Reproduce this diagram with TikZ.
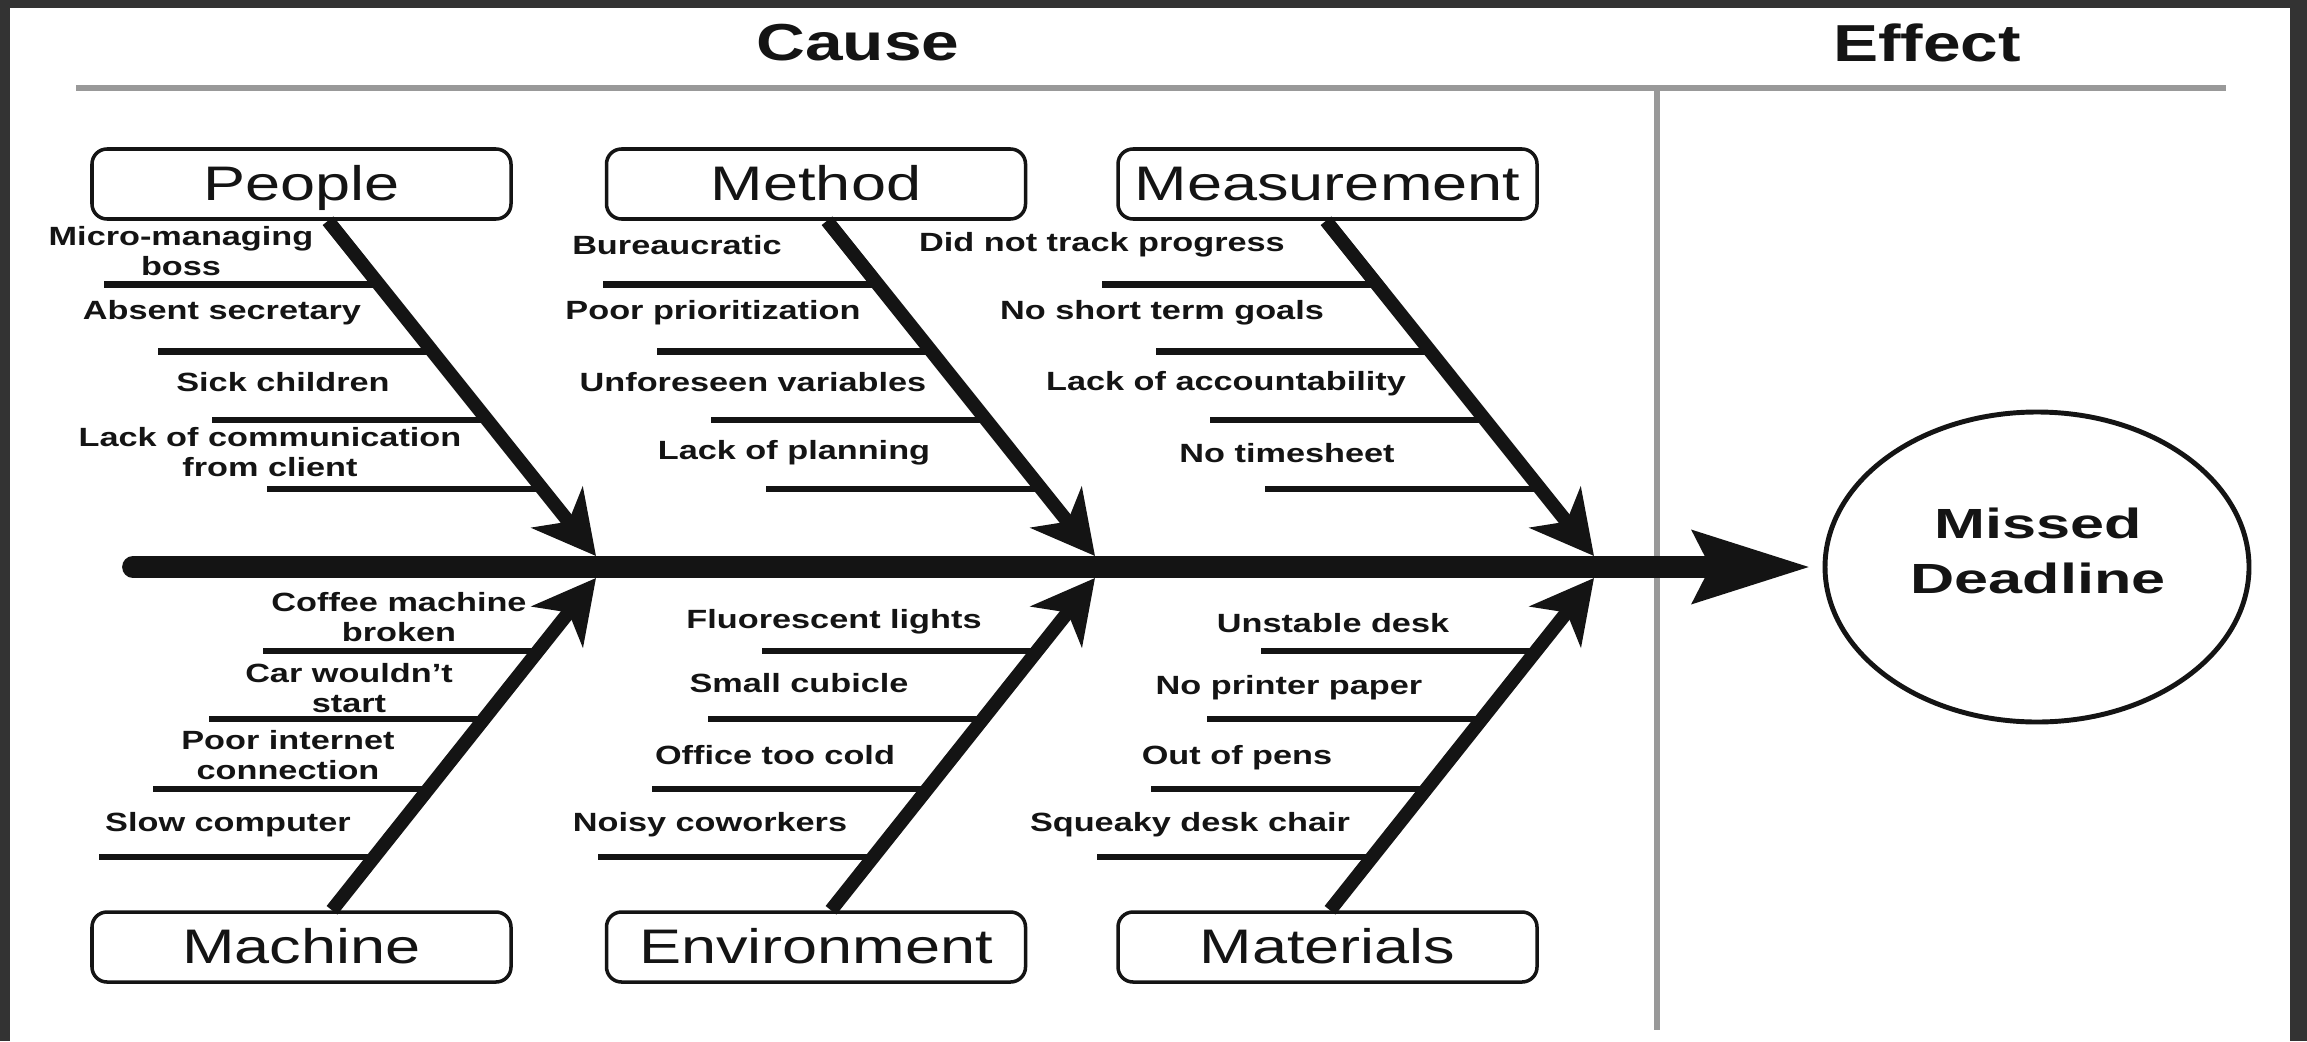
\documentclass[tikz,border=0pt]{standalone}
\usepackage{fontspec}
\setmainfont{Liberation Sans}[FakeStretch=1.3]
\newfontfamily\effectfont{Liberation Sans}[FakeStretch=1.45]
\usepackage{tikz}
\usetikzlibrary{arrows.meta, calc, shapes.geometric}
\definecolor{inkBlack}{gray}{0.08}
\definecolor{ruleGray}{gray}{0.6}
\definecolor{frameGray}{gray}{0.2}

\begin{document}
\begin{tikzpicture}[
    category/.style={draw=inkBlack, line width=1pt, rounded corners=1.5mm, minimum width=4.19cm, minimum height=0.7cm, inner sep=0pt, text height=9.6pt, text depth=0pt, text=inkBlack, font=\fontsize{13.8}{16}\selectfont},
    cause/.style={align=center, inner sep=0pt, text=inkBlack, font=\fontsize{7.5}{8.3}\selectfont\bfseries},
    heading/.style={text=inkBlack, font=\fontsize{14.8}{17}\selectfont\bfseries},
    bone/.style={line width=3.9pt, inkBlack, -{Stealth[length=6.2mm, width=6.5mm, inset=1.8mm]}},
    twig/.style={line width=1.8pt, inkBlack},
    rule/.style={line width=1.5pt, ruleGray}
]
    \useasboundingbox (0,0) rectangle (23.07,10.41);
    \fill[frameGray] (0,0) rectangle (23.07,10.41);
    \fill[white] (0.10,0) rectangle (22.90,10.33);

    % Headings and dividers
    \node[heading] (cause) at (8.58,9.98) {Cause};
    \node[heading] (effecthead) at (19.27,9.98) {Effect};
    \draw[rule] (0.76,9.53) -- (22.26,9.53);
    \draw[rule] (16.57,9.53) -- (16.57,0.11);

    % Categories
    \node[category] (people) at (3.015,8.57) {People};
    \node[category] (method) at (8.16,8.57) {Method};
    \node[category] (measure) at (13.275,8.57) {Measurement};
    \node[category] (machine) at (3.015,0.94) {Machine};
    \node[category] (environ) at (8.16,0.94) {Environment};
    \node[category] (material) at (13.275,0.94) {Materials};

    % Head and spine
    \node[draw=inkBlack, ellipse, line width=1.4pt, minimum width=4.24cm, minimum height=3.1cm, inner sep=0pt] (effect) at (20.37,4.74) {};
    \node[align=center, text=inkBlack, font=\effectfont\fontsize{12}{15.5}\selectfont\bfseries] (deadline) at (20.38,4.90) {Missed\\Deadline};
    \coordinate (tail) at (1.33,4.74);
    \draw[line width=6.2pt, line cap=round, inkBlack, -{Stealth[length=11.6mm, width=7mm, inset=1.6mm]}, shorten >=1.2mm] (tail) -- (effect);

    % Bones
    \coordinate (p-base) at ([xshift=2.65mm]people.south);
    \coordinate (m-base) at ([xshift=1.1mm]method.south);
    \coordinate (r-base) at ([xshift=-0.15mm]measure.south);
    \coordinate (c-base) at ([xshift=3.05mm]machine.north);
    \coordinate (e-base) at ([xshift=1.5mm]environ.north);
    \coordinate (t-base) at ([xshift=0.25mm]material.north);
    \coordinate (p-tip) at (5.96,4.85);
    \coordinate (m-tip) at (10.95,4.85);
    \coordinate (r-tip) at (15.94,4.85);
    \coordinate (c-tip) at (5.96,4.63);
    \coordinate (e-tip) at (10.95,4.63);
    \coordinate (t-tip) at (15.94,4.63);

    \foreach \bn in {p,m,r} {
        \foreach \t in {0.19,0.39,0.595,0.8}
            \draw[twig] ($(\bn-base)!\t!(\bn-tip)$) -- ++(-2.75,0);
        \draw[bone] (\bn-base) -- (\bn-tip);
    }
    \foreach \bn in {c,e,t} {
        \foreach \t in {0.16,0.365,0.575,0.78}
            \draw[twig] ($(\bn-base)!\t!(\bn-tip)$) -- ++(-2.75,0);
        \draw[bone] (\bn-base) -- (\bn-tip);
    }

    % Causes above the spine
    \node[cause] (p1) at (1.81,7.90) {Micro-managing\\boss};
    \node[cause] (p2) at (2.22,7.28) {Absent secretary};
    \node[cause] (p3) at (2.83,6.59) {Sick children};
    \node[cause] (p4) at (2.70,5.89) {Lack of communication\\from client};
    \node[cause] (m1) at (6.77,7.96) {Bureaucratic};
    \node[cause] (m2) at (7.13,7.28) {Poor prioritization};
    \node[cause] (m3) at (7.53,6.59) {Unforeseen variables};
    \node[cause] (m4) at (7.94,5.88) {Lack of planning};
    \node[cause] (r1) at (11.02,7.96) {Did not track progress};
    \node[cause] (r2) at (11.62,7.28) {No short term goals};
    \node[cause] (r3) at (12.26,6.57) {Lack of accountability};
    \node[cause] (r4) at (12.87,5.88) {No timesheet};

    % Causes below the spine
    \node[cause] (c1) at (3.99,4.24) {Coffee machine\\broken};
    \node[cause] (c2) at (3.49,3.53) {Car wouldn't\\start};
    \node[cause] (c3) at (2.88,2.86) {Poor internet\\connection};
    \node[cause] (c4) at (2.28,2.16) {Slow computer};
    \node[cause] (e1) at (8.34,4.19) {Fluorescent lights};
    \node[cause] (e2) at (7.99,3.58) {Small cubicle};
    \node[cause] (e3) at (7.75,2.86) {Office too cold};
    \node[cause] (e4) at (7.10,2.16) {Noisy coworkers};
    \node[cause] (t1) at (13.33,4.18) {Unstable desk};
    \node[cause] (t2) at (12.89,3.53) {No printer paper};
    \node[cause] (t3) at (12.37,2.83) {Out of pens};
    \node[cause] (t4) at (11.90,2.16) {Squeaky desk chair};
\end{tikzpicture}
\end{document}
